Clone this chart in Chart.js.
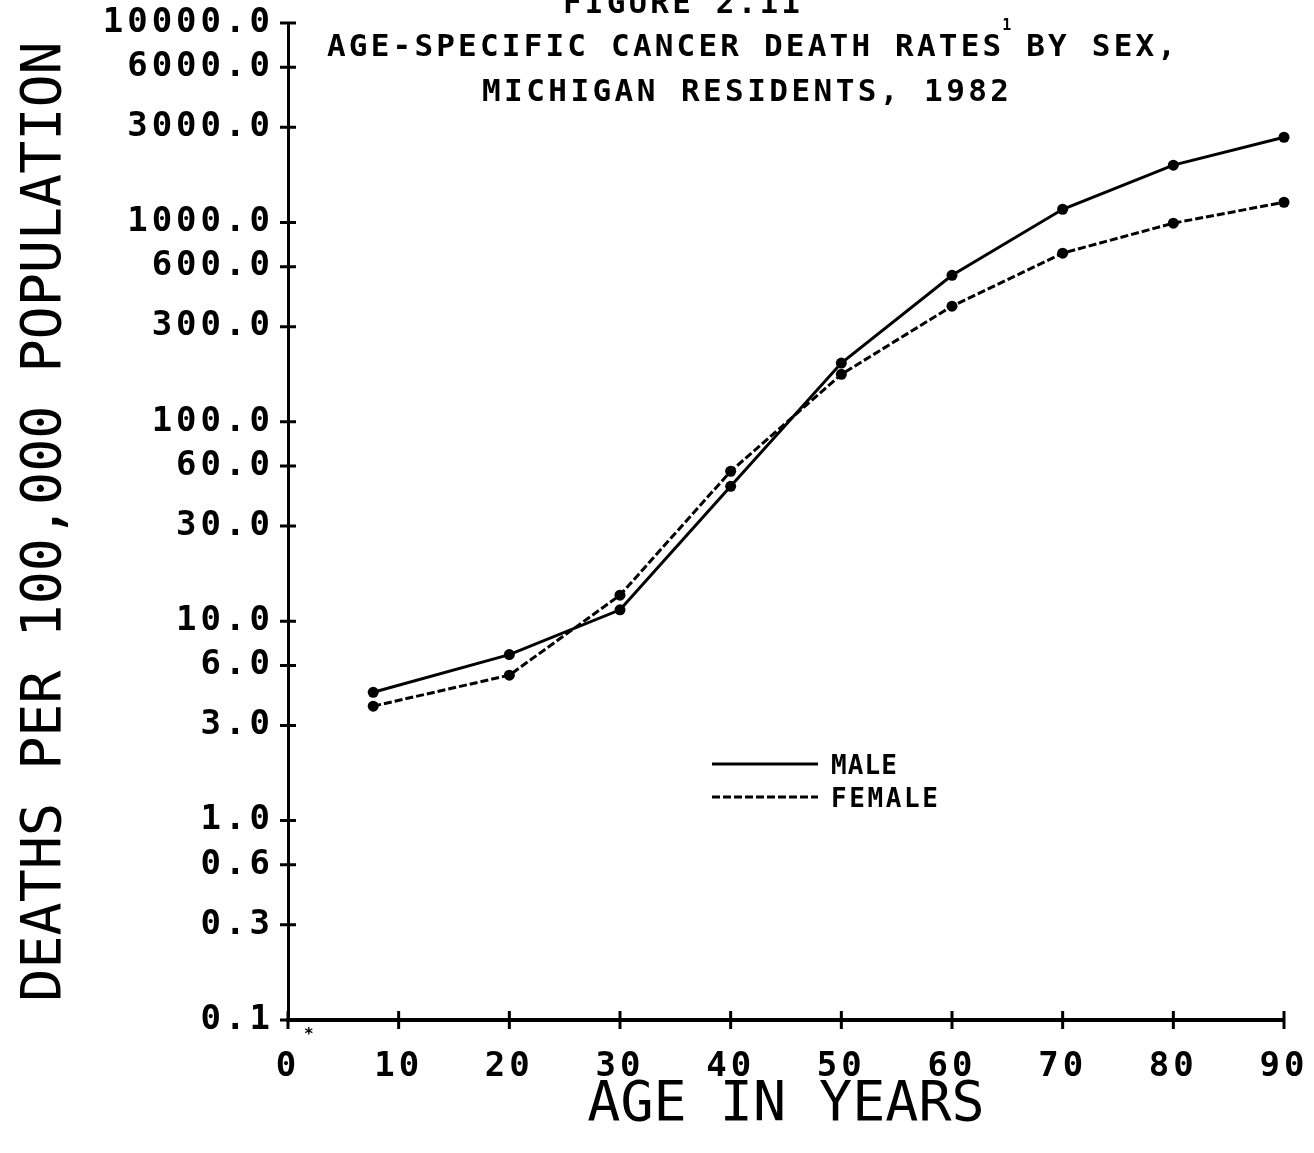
<!DOCTYPE html>
<html>
<head>
<meta charset="utf-8">
<script src="https://cdn.jsdelivr.net/npm/chart.js@4.4.1/dist/chart.umd.min.js"></script>
<style>
  html, body { margin: 0; padding: 0; background: #ffffff; }
  #wrap { width: 1314px; height: 1153px; position: relative; }
</style>
</head>
<body>
<div id="wrap"><canvas id="c" width="1314" height="1153"></canvas></div>
<script>
// ---- data ----
const ages = [7.7, 20, 30, 40, 50, 60, 70, 80, 90];
const maleRates = [4.4, 6.8, 11.4, 47.5, 197, 543, 1164, 1937, 2673];
const femaleRates = [3.75, 5.36, 13.5, 56.5, 173, 380, 701, 991, 1262];
const seriesLabels = ['MALE', 'FEMALE'];
const yTickValues = [0.1, 0.3, 0.6, 1, 3, 6, 10, 30, 60, 100, 300, 600, 1000, 3000, 6000, 10000];
const xTickValues = [0, 10, 20, 30, 40, 50, 60, 70, 80, 90];
const titleFigure = 'FIGURE 2.11';
const titleLine1 = 'AGE-SPECIFIC CANCER DEATH RATES BY SEX,';
const titleLine1NoteAfter = 'AGE-SPECIFIC CANCER DEATH RATES';
const titleLine2 = 'MICHIGAN RESIDENTS, 1982';
const titleNote = '1';
const originNote = '*';
const yAxisTitle = 'DEATHS PER 100,000 POPULATION';
const xAxisTitle = 'AGE IN YEARS';

const FONT = "'DejaVu Sans Mono', 'Liberation Mono', monospace";

function toPoints(xs, ys) { return xs.map((x, i) => ({ x: x, y: ys[i] })); }

function fitSpacing(ctx, text, x0, x1, font) {
  ctx.font = font;
  ctx.letterSpacing = '0px';
  const w = ctx.measureText(text).width;
  return text.length > 1 ? (x1 - x0 - w) / (text.length - 1) : 0;
}

function drawFit(ctx, text, x0, x1, baseline, font) {
  const sp = fitSpacing(ctx, text, x0, x1, font);
  ctx.font = font;
  ctx.letterSpacing = sp + 'px';
  ctx.textAlign = 'left';
  ctx.textBaseline = 'alphabetic';
  ctx.fillText(text, x0, baseline);
  ctx.letterSpacing = '0px';
  return sp;
}

const decor = {
  id: 'decor',
  afterDatasetsDraw(chart) {
    // tick labels (z = 1) are drawn after this hook: widen their letters like the plotter font
    chart.ctx.letterSpacing = '4px';
  },
  afterDraw(chart) {
    const ctx = chart.ctx;
    ctx.letterSpacing = '0px';
    ctx.save();
    const xs = chart.scales.x, ys = chart.scales.y;
    const left = chart.chartArea.left, bottom = chart.chartArea.bottom;
    ctx.strokeStyle = '#000';
    ctx.lineWidth = 3;
    ctx.beginPath();
    ys.ticks.forEach(t => {
      const py = ys.getPixelForValue(t.value);
      ctx.moveTo(left - 8, py); ctx.lineTo(left + 8, py);
    });
    xs.ticks.forEach(t => {
      const px = xs.getPixelForValue(t.value);
      ctx.moveTo(px, bottom - 9); ctx.lineTo(px, bottom + 9);
    });
    ctx.stroke();

    // titles
    ctx.fillStyle = '#000';
    const tf = "bold 31px " + FONT;
    drawFit(ctx, titleFigure, 563, 800, 13, tf);
    const sp1 = drawFit(ctx, titleLine1, 327, 1176, 56, tf);
    drawFit(ctx, titleLine2, 482, 1009, 101, tf);
    ctx.font = tf;
    ctx.letterSpacing = sp1 + 'px';
    const noteX = 327 + ctx.measureText(titleLine1NoteAfter).width - sp1 + 1;
    ctx.letterSpacing = '0px';
    ctx.font = "bold 15px " + FONT;
    ctx.textAlign = 'left';
    ctx.fillText(titleNote, noteX, 30);
    ctx.font = "bold 16px " + FONT;
    ctx.fillText(originNote, 304, 1039);

    // legend
    const lf = "bold 26px " + FONT;
    const rows = [
      { y: 764, x1: 897 },
      { y: 797, x1: 938 }
    ];
    chart.data.datasets.forEach((ds, i) => {
      const r = rows[i];
      ctx.save();
      ctx.strokeStyle = ds.borderColor;
      ctx.lineWidth = ds.borderWidth;
      ctx.setLineDash(ds.borderDash || []);
      ctx.beginPath();
      ctx.moveTo(712, r.y); ctx.lineTo(818, r.y);
      ctx.stroke();
      ctx.restore();
      drawFit(ctx, ds.label, 831, r.x1, r.y + 10, lf);
    });
    ctx.restore();
    ctx.letterSpacing = '0px';
  }
};

const chart = new Chart(document.getElementById('c'), {
  type: 'line',
  data: {
    datasets: [
      {
        label: seriesLabels[0],
        data: toPoints(ages, maleRates),
        borderColor: '#000',
        backgroundColor: '#000',
        borderWidth: 3,
        pointRadius: 5.5,
        pointBackgroundColor: '#000',
        pointBorderWidth: 0,
        tension: 0,
        clip: false
      },
      {
        label: seriesLabels[1],
        data: toPoints(ages, femaleRates),
        borderColor: '#000',
        backgroundColor: '#000',
        borderWidth: 3,
        borderDash: [8, 3],
        pointRadius: 5.5,
        pointBackgroundColor: '#000',
        pointBorderWidth: 0,
        tension: 0,
        clip: false
      }
    ]
  },
  options: {
    responsive: false,
    animation: false,
    events: [],
    layout: { padding: { left: 0, right: 30, top: 23, bottom: 0 } },
    plugins: {
      legend: { display: false },
      tooltip: { enabled: false },
      title: { display: false }
    },
    scales: {
      x: {
        type: 'linear',
        min: 0,
        max: 90,
        afterBuildTicks: (s) => { s.ticks = xTickValues.map(v => ({ value: v })); },
        afterFit: (s) => { s.height = 133; s.paddingLeft = 0; s.paddingRight = 0; },
        grid: { display: true, drawOnChartArea: false, drawTicks: false },
        border: { display: true, color: '#000', width: 4 },
        ticks: {
          z: 1,
          color: '#000',
          padding: 30,
          maxRotation: 0,
          autoSkip: false,
          font: { family: FONT, size: 34, weight: 'bold', lineHeight: 1 },
          callback: (v) => String(v)
        },
        title: {
          display: true,
          text: xAxisTitle,
          color: '#000',
          font: { family: FONT, size: 55, weight: 'normal', lineHeight: 1 },
          padding: { top: 0, bottom: 20 }
        }
      },
      y: {
        type: 'logarithmic',
        min: 0.1,
        max: 10000,
        afterBuildTicks: (s) => { s.ticks = yTickValues.map(v => ({ value: v })); },
        afterFit: (s) => { s.width = 288; s.paddingTop = 0; s.paddingBottom = 0; },
        grid: { display: true, drawOnChartArea: false, drawTicks: false },
        border: { display: true, color: '#000', width: 3 },
        ticks: {
          z: 1,
          color: '#000',
          padding: 14,
          autoSkip: false,
          font: { family: FONT, size: 34, weight: 'bold', lineHeight: 1 },
          callback: (v) => Number(v).toFixed(1)
        },
        title: {
          display: true,
          text: yAxisTitle,
          color: '#000',
          font: { family: FONT, size: 55, weight: 'normal', lineHeight: 1 },
          padding: { top: 18, bottom: 0 }
        }
      }
    }
  },
  plugins: [decor]
});
</script>
</body>
</html>
